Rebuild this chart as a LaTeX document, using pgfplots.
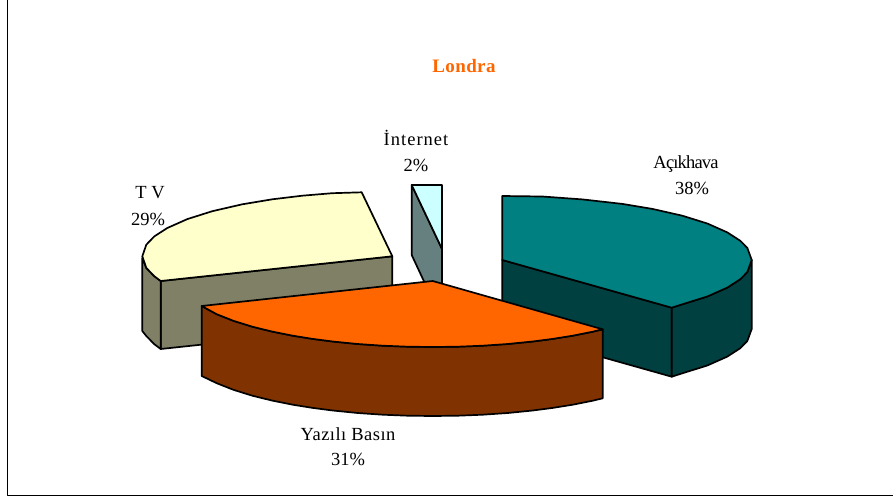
\documentclass[border=0pt]{standalone}
\usepackage{pgfplots}
\pgfplotsset{compat=1.18}
\usepackage{fontspec}
\setmainfont{Liberation Serif}
\definecolor{teal1}{HTML}{008080}
\definecolor{teal2}{HTML}{004040}
\definecolor{or1}{HTML}{FF6600}
\definecolor{or2}{HTML}{803300}
\definecolor{cr1}{HTML}{FFFFCC}
\definecolor{cr2}{HTML}{808066}
\definecolor{cy1}{HTML}{CCFFFF}
\definecolor{cy2}{HTML}{668080}
\newcommand{\lab}[1]{\fontsize{18.5bp}{20bp}\selectfont #1}
\begin{document}
\begin{tikzpicture}
\useasboundingbox (0,0) rectangle (893bp,499bp);
\begin{axis}[
  at={(0,0)}, anchor=south west,
  hide axis, scale only axis, width=893bp, height=499bp,
  xmin=0, xmax=893, ymin=0, ymax=499, y dir=reverse,
  every axis plot/.append style={draw=black, line width=1.7bp, line join=round, mark=none},
]
% frame
\addplot[fill=none, line width=1.9bp] coordinates {(7.5,0) (7.5,495.5) (893,495.5)};
% TV
\addplot[fill=cr2] coordinates {(160.7,281) (392.3,256.3) (392.3,324.3) (160.7,349)} -- cycle;
\addplot[fill=cr2] coordinates {(142.3,258) (146.3,267.9) (154.3,276.2) (160.7,281) (160.7,349) (154.3,344.2) (146.3,336) (142.3,331)} -- cycle;
\addplot[fill=cr1] coordinates {(361.7,192.3) (392.3,256.3) (160.7,281) (154.3,276.2) (146.3,267.9) (142.3,256.3) (146.3,244.7) (154.3,236.4) (167.3,228) (187.3,219.1) (212.3,211.2) (242.3,204.3) (272.3,199.3) (302.3,195.7) (332.3,193.2)} -- cycle;
% Internet
\addplot[fill=cy2] coordinates {(411.7,185) (442,249) (442,320) (411.7,255)} -- cycle;
\addplot[fill=cy1] coordinates {(411.7,185) (442,185) (442,249)} -- cycle;
% Acikhava
\addplot[fill=teal2] coordinates {(502.3,260) (671.7,307.7) (671.7,376.7) (502.3,329)} -- cycle;
\addplot[fill=teal2] coordinates {(671.7,307.4) (682.3,304.3) (707.3,296.5) (727.3,287.6) (740.3,279.2) (747.3,272.1) (751.7,260) (751.7,329) (747.3,341) (740.3,348.2) (727.3,356.6) (707.3,365.5) (682.3,373.3) (671.7,376.7)} -- cycle;
\addplot[fill=teal1] coordinates {(502.3,196) (542.3,196.5) (582.3,199.4) (622.3,203.9) (652.3,208.9) (682.3,215.7) (707.3,223.5) (727.3,232.4) (740.3,240.8) (747.3,247.9) (751.7,260) (747.3,272.1) (740.3,279.2) (727.3,287.6) (707.3,296.5) (682.3,304.3) (671.7,307.7) (502.3,260)} -- cycle;
% Yazili Basin
\addplot[fill=or2] coordinates {(201.7,306) (216.7,314.2) (233.7,320.9) (252.7,326.8) (272.7,331.7) (292.7,335.7) (312.7,338.9) (332.7,341.5) (357.7,344) (382.7,345.7) (407.7,346.7) (432.7,347) (457.7,346.7) (482.7,345.7) (507.7,344) (532.7,341.5) (552.7,338.9) (572.7,335.7) (592.7,331.7) (602.7,329.3) (602.7,398.3) (592.7,400.7) (572.7,404.7) (552.7,407.9) (532.7,410.5) (507.7,413) (482.7,414.7) (457.7,415.7) (432.7,416) (407.7,415.7) (382.7,414.7) (357.7,413) (332.7,410.5) (312.7,407.9) (292.7,404.7) (272.7,400.7) (252.7,395.8) (233.7,389.9) (216.7,383.2) (201.7,376)} -- cycle;
\addplot[fill=or1] coordinates {(432.7,281) (602.7,329.3) (592.7,331.7) (572.7,335.7) (552.7,338.9) (532.7,341.5) (507.7,344) (482.7,345.7) (457.7,346.7) (432.7,347) (407.7,346.7) (382.7,345.7) (357.7,344) (332.7,341.5) (312.7,338.9) (292.7,335.7) (272.7,331.7) (252.7,326.8) (233.7,320.9) (216.7,314.2) (201.7,306)} -- cycle;
% text
\node[anchor=base, text=or1] at (axis cs:464,72.5) {\fontsize{19bp}{20bp}\selectfont\addfontfeature{LetterSpace=2}\bfseries Londra};
\node[anchor=base] at (axis cs:416,145) {\lab{\addfontfeature{LetterSpace=5.5}İnternet}};
\node[anchor=base] at (axis cs:416,171) {\lab{2\%}};
\node[anchor=base] at (axis cs:686,168.3) {\lab{\addfontfeature{LetterSpace=-4.5}Açıkhava}};
\node[anchor=base] at (axis cs:692,194) {\lab{38\%}};
\node[anchor=base] at (axis cs:150,198) {\lab{T V}};
\node[anchor=base] at (axis cs:148,225) {\lab{29\%}};
\node[anchor=base] at (axis cs:348,440) {\lab{\addfontfeature{LetterSpace=2.5}Yazılı Basın}};
\node[anchor=base] at (axis cs:348,465.7) {\lab{31\%}};
\end{axis}
\end{tikzpicture}
\end{document}
